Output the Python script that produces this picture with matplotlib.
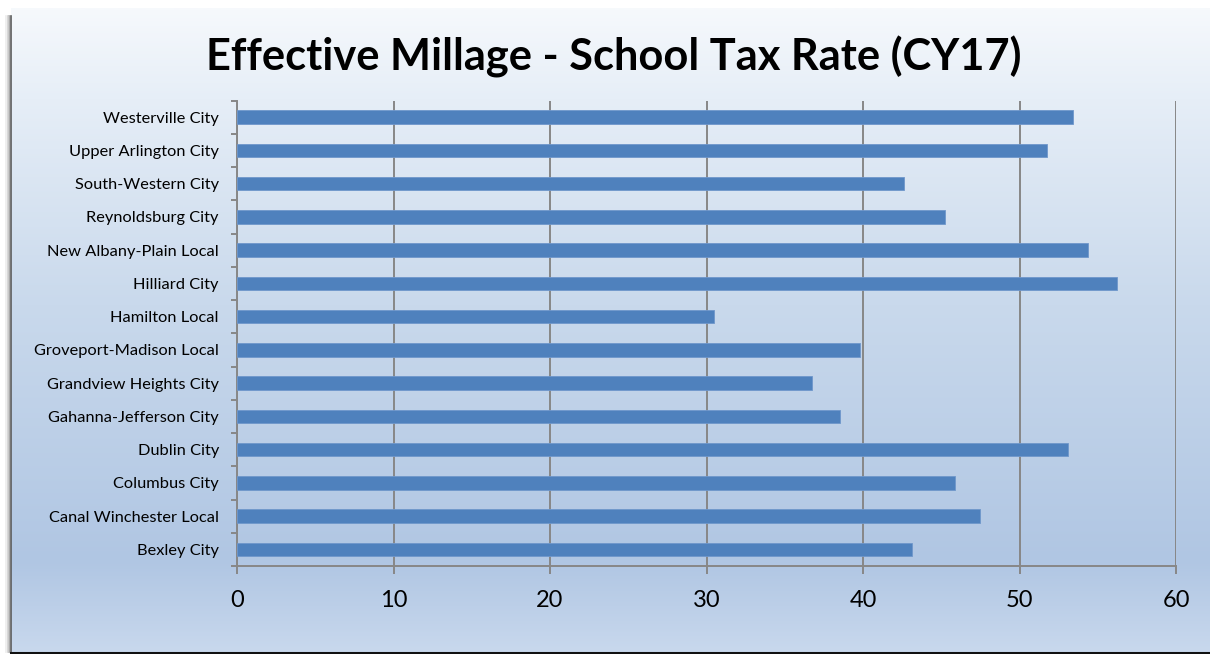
import numpy as np
import matplotlib
matplotlib.use("Agg")
import matplotlib.pyplot as plt
from matplotlib.colors import LinearSegmentedColormap
from matplotlib.lines import Line2D

# ---- data (bottom to top) ----
districts = ["Bexley City", "Canal Winchester Local", "Columbus City", "Dublin City",
             "Gahanna-Jefferson City", "Grandview Heights City", "Groveport-Madison Local",
             "Hamilton Local", "Hilliard City", "New Albany-Plain Local", "Reynoldsburg City",
             "South-Western City", "Upper Arlington City", "Westerville City"]
millage = [43.13, 47.5, 45.86, 53.12, 38.55, 36.74, 39.79,
           30.46, 56.25, 54.36, 45.24, 42.6, 51.78, 53.44]
x_ticks = [0, 10, 20, 30, 40, 50, 60]
title = "Effective Millage - School Tax Rate (CY17)"

W, H = 1210, 654
fig = plt.figure(figsize=(W / 100, H / 100), dpi=100)
fig.patch.set_facecolor("white")

# ---- background gradient (chart area) ----
bg = fig.add_axes([11 / W, 2 / H, (W - 11) / W, (652 - 2 - 6) / H])
bg.set_axis_off()
cmap = LinearSegmentedColormap.from_list(
    "bg",
    [(0.0, "#F6F9FC"), (0.14, "#E6EEF7"), (0.46, "#C9D9EC"),
     (0.86, "#B0C6E3"), (1.0, "#C8D8ED")])
grad = np.linspace(0, 1, 512).reshape(-1, 1)
bg.imshow(grad, aspect="auto", cmap=cmap, extent=[0, 1, 0, 1], origin="upper")
bg.set_xlim(0, 1)
bg.set_ylim(0, 1)

# left shadow
for dx, col in [(10.5, "#5a5a5a"), (9.0, "#9a9a9a"), (7.5, "#d0d0d0"), (6.0, "#ececec")]:
    fig.add_artist(Line2D([dx / W, dx / W], [2 / H, 1 - 16 / H], color=col, lw=1.2,
                          transform=fig.transFigure))
# bottom dark line
fig.add_artist(Line2D([11 / W, 1], [1.5 / H, 1.5 / H], color="#111111", lw=2.2,
                      transform=fig.transFigure))

# ---- plot area ----
left, right = 237 / W, 1176 / W
bottom, top = 1 - 566 / H, 1 - 100.5 / H
ax = fig.add_axes([left, bottom, right - left, top - bottom])
ax.patch.set_alpha(0)

y = np.arange(len(districts))
ax.barh(y, millage, height=0.40, color="#4F81BD", edgecolor="#6F97CB", linewidth=0.6, zorder=3)

ax.set_xlim(0, 60)
ax.set_ylim(-0.5, len(districts) - 0.5)

grid_col = "#878787"
ax.set_xticks(x_ticks)
ax.set_xticklabels([str(t) for t in x_ticks], fontfamily="Lato", fontsize=17, color="black")
ax.xaxis.grid(True, color=grid_col, lw=1.4, zorder=1)
ax.tick_params(axis="x", direction="out", length=5.5, width=1.4, color=grid_col, pad=12)

ax.set_yticks(np.arange(-0.5, len(districts), 1.0))
ax.set_yticklabels([])
ax.set_yticks(y, minor=True)
ax.set_yticklabels(districts, minor=True, fontfamily="Lato", fontsize=11.8, color="black")
ax.tick_params(axis="y", which="major", direction="out", length=4, width=1.4, color=grid_col)
ax.tick_params(axis="y", which="minor", length=0, pad=13)

for s in ["top", "right"]:
    ax.spines[s].set_visible(False)
for s in ["left", "bottom"]:
    ax.spines[s].set_color(grid_col)
    ax.spines[s].set_linewidth(1.4)

fig.text(614 / W, 1 - 57 / H, title, ha="center", va="center",
         fontfamily="Lato", fontweight="bold", fontsize=31.2, color="black")

fig.savefig("out.png", dpi=100)
